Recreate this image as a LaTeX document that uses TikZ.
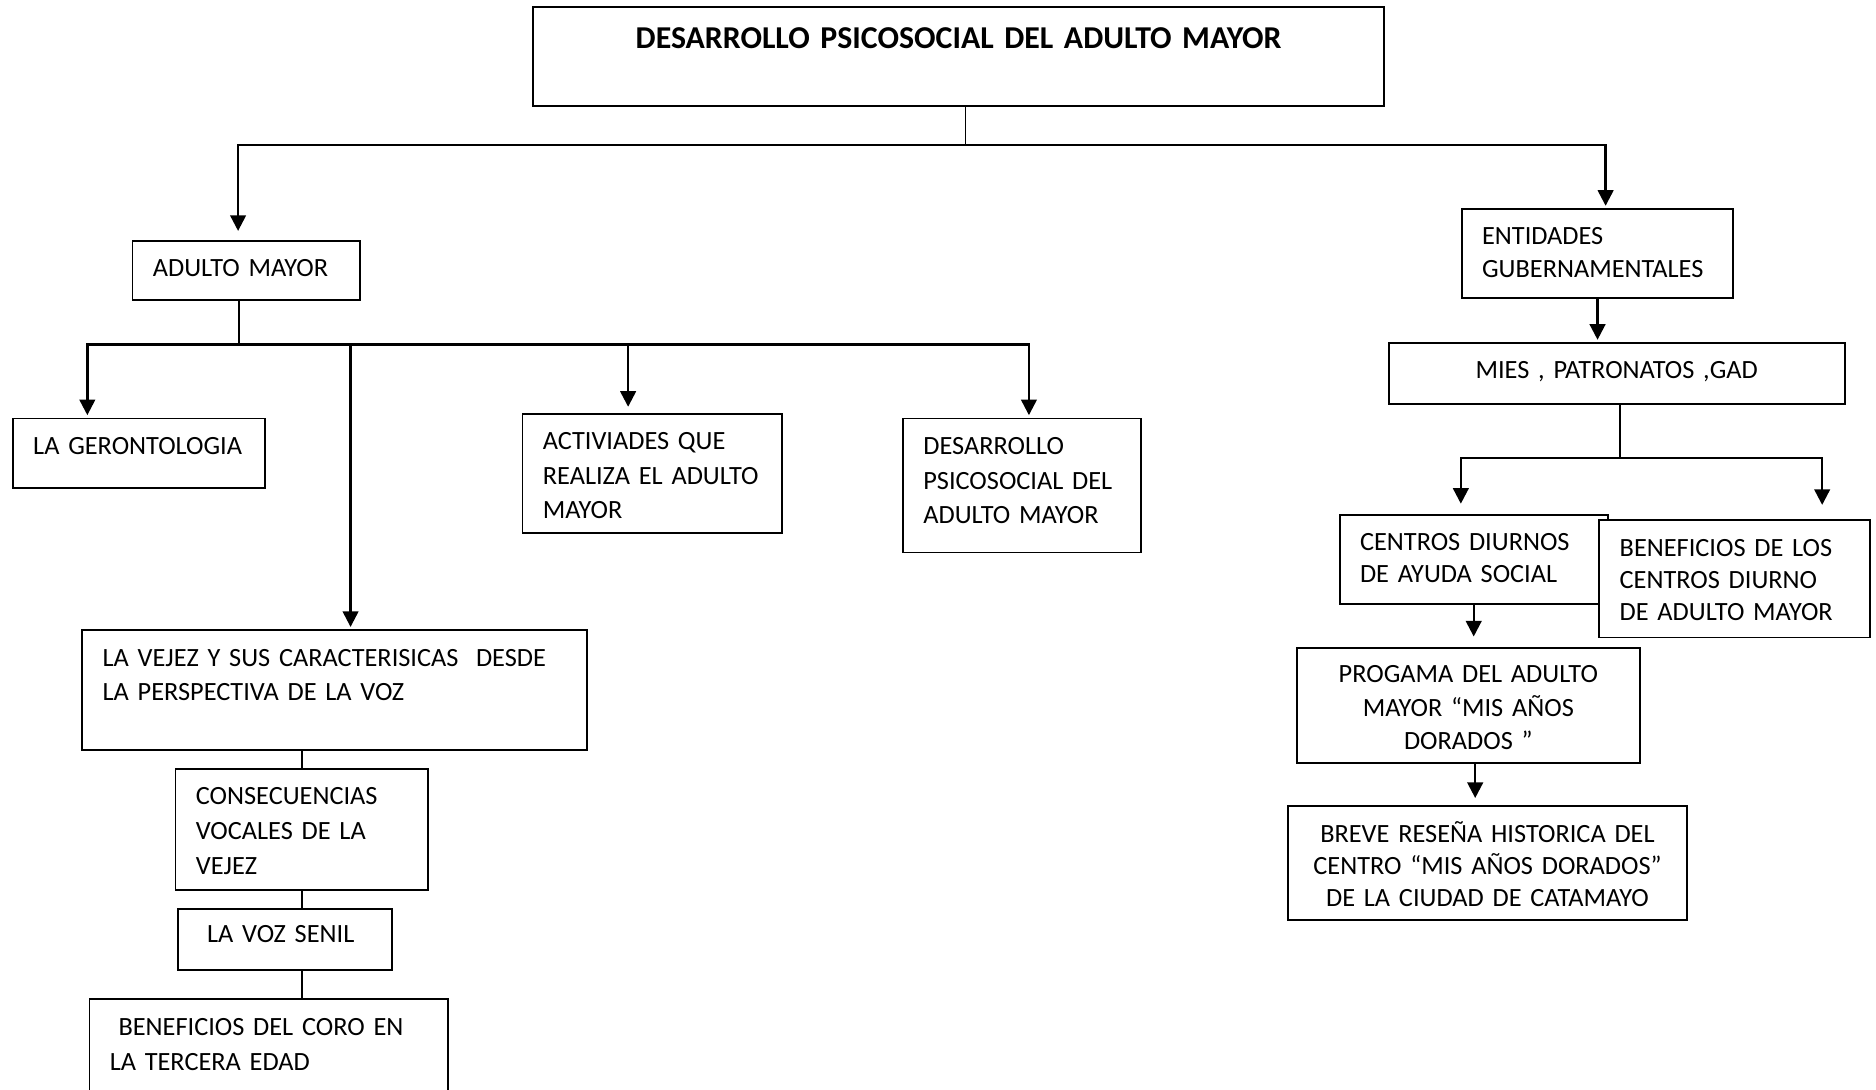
\documentclass[tikz,border=0pt]{standalone}
\usepackage{fontspec}
\setmainfont{Carlito}
\usetikzlibrary{arrows.meta}
\tikzset{
  box/.style={draw, line width=0.75pt, fill=white, anchor=north west, inner xsep=8.5pt, inner ysep=0pt,
    align=left, text height=15pt, font=\fontsize{11}{14.5}\selectfont},
  rbox/.style={box, font=\fontsize{11}{13.5}\selectfont},
  cbox/.style={rbox, align=center},
  stub/.style={line width=0.7pt},
  link/.style={line width=1pt, line cap=rect},
  arr/.style={link, -{Triangle[width=6.5pt,length=6.5pt]}, shorten >=1pt}
}
\begin{document}
\begin{tikzpicture}[x=0.5pt, y=-0.5pt]
  \useasboundingbox (0,0) rectangle (1568,911);

  % titulo
  \node[box, align=center, text width=338.5pt, text height=17.2pt, text depth=24.3pt,
    font=\fontsize{13.3}{15}\selectfont\bfseries] (titulo) at (445,5) {DESARROLLO PSICOSOCIAL DEL ADULTO MAYOR};

  % rama izquierda
  \node[box, text width=78pt, text height=14.5pt, text depth=10pt] (adulto) at (110,201) {ADULTO MAYOR};
  \node[box, text width=88.5pt, text depth=14pt] (geronto) at (10,349) {LA GERONTOLOGIA};
  \node[box, text width=91.5pt, text depth=35pt] (activ) at (436,345) {ACTIVIADES QUE\\REALIZA EL~ADULTO\\MAYOR};
  \node[box, text width=82.5pt, text depth=41pt] (desps) at (754,349) {DESARROLLO\\PSICOSOCIAL DEL\\ADULTO MAYOR};
  \node[box, text width=194pt, text depth=35pt] (vejez) at (68,526) {LA VEJEZ Y SUS CARACTERISICAS\ \ DESDE\\LA PERSPECTIVA DE LA VOZ};
  \node[box, text width=88.5pt, text depth=35.5pt] (consec) at (146,642) {CONSECUENCIAS\\VOCALES DE LA\\VEJEZ};
  \node[box, text width=72.5pt, text height=14pt, text depth=11.5pt] (senil) at (148,759) {\ LA VOZ SENIL};
  \node[box, text width=133pt, text height=15.5pt, text depth=37.5pt] (coro) at (74,834) {\ BENEFICIOS DEL CORO EN\\LA TERCERA EDAD};

  % rama derecha
  \node[rbox, text width=96.5pt, text depth=22pt] (entid) at (1221,174) {ENTIDADES\\GUBERNAMENTALES};
  \node[cbox, text width=173.5pt, text depth=10.5pt] (mies) at (1160,286) {MIES , PATRONATOS ,GAD};
  \node[rbox, text width=95pt, text height=14.5pt, text depth=22.5pt] (centros) at (1119,430) {CENTROS DIURNOS\\DE AYUDA SOCIAL};
  \node[rbox, text width=96pt, text depth=34pt] (benef) at (1336,434) {BENEFICIOS DE LOS\\CENTROS DIURNO\\DE ADULTO MAYOR};
  \node[cbox, text width=126.5pt, text height=14.5pt, text depth=33.5pt,
    font=\fontsize{11}{14}\selectfont] (progama) at (1083,541) {PROGAMA DEL ADULTO\\MAYOR “MIS AÑOS\\DORADOS ”};
  \node[cbox, text width=149.5pt, text depth=32.5pt] (resena) at (1076,673) {BREVE RESEÑA HISTORICA DEL\\CENTRO “MIS AÑOS DORADOS”\\DE LA CIUDAD DE CATAMAYO};

  % puntos de union
  \coordinate (t1) at (807,121);
  \coordinate (t2) at (199,121);
  \coordinate (t3) at (1342,121);
  \coordinate (a1) at (200,288);
  \coordinate (a2) at (73,288);
  \coordinate (a3) at (860,288);
  \coordinate (a4) at (293,290);
  \coordinate (a5) at (525,290);
  \coordinate (m1) at (1354,383);
  \coordinate (m2) at (1221,383);
  \coordinate (m3) at (1523,383);
  \coordinate (p1) at (1233,655);

  \draw[stub] (titulo.south -| t1) -- (t1);
  \draw[arr, shorten >=4pt] (t3) -- (t2) -- (adulto.north -| t2);
  \draw[arr] (t3) -- (entid.north -| t3);

  \draw[stub] (adulto.south -| a1) -- (a1);
  \draw[arr] (a3) -- (a2) -- (geronto.north -| a2);
  \draw[arr] (a3) -- (desps.north -| a3);
  \draw[arr] (a4) -- (vejez.north -| a4);
  \draw[arr, shorten >=2.5pt] (a5) -- (activ.north -| a5);
  \draw[link] (vejez.south -| consec.north) -- (consec.north);
  \draw[link] (consec.south) -- (consec.south |- senil.north);
  \draw[link] (consec.south |- senil.south) -- (consec.south |- coro.north);

  \draw[arr] (entid.south) -- (mies.north -| entid.south);
  \draw[stub] (mies.south -| m1) -- (m1);
  \draw[arr, shorten >=4.5pt] (m3) -- (m2) -- (centros.north -| m2);
  \draw[arr, shorten >=6pt] (m2) -- (m3) -- (benef.north -| m3);
  \draw[arr, shorten >=4.5pt] (centros.south) -- (progama.north -| centros.south);
  \draw[arr, shorten >=3pt] (progama.south -| p1) -- (resena.north -| p1);
\end{tikzpicture}
\end{document}
